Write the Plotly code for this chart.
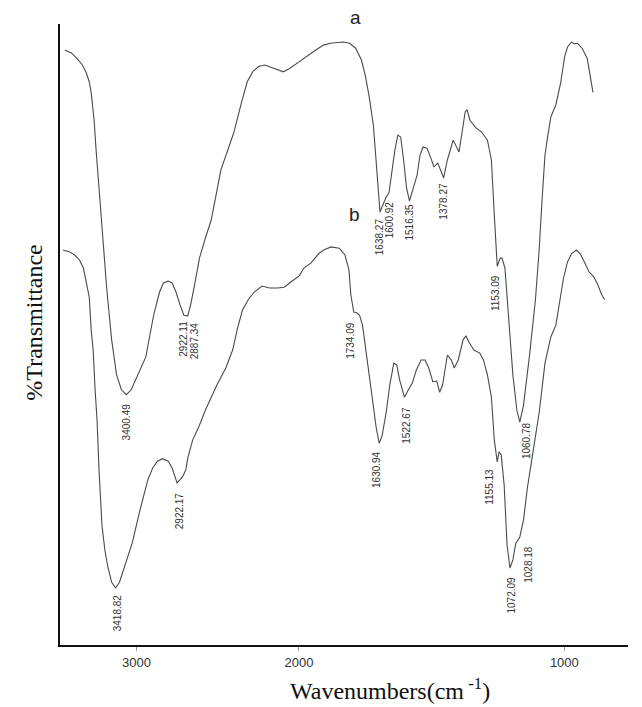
import plotly.graph_objects as go

# ---- data (wavenumber in cm-1, %T in arbitrary 0-100 units) ----
wn_a = [3440, 3398, 3368, 3332, 3308, 3290, 3278, 3260, 3248, 3230, 3212, 3182, 3152, 3122, 3092,
        3062, 3032, 2996, 2942, 2894, 2858, 2834, 2804, 2780, 2756, 2732, 2708, 2684, 2666, 2642,
        2612, 2576, 2540, 2480, 2402, 2354, 2318, 2282, 2246, 2210, 2156, 2096, 2060, 2000,
        1971, 1937, 1908, 1882, 1834, 1809, 1787, 1765, 1750, 1735, 1720, 1709, 1702, 1695, 1684,
        1672, 1661, 1650, 1639, 1628, 1617, 1606, 1595, 1584, 1573, 1566, 1555, 1544, 1533, 1518,
        1503, 1492, 1477, 1463, 1455, 1441, 1419, 1397, 1374, 1367, 1356, 1334, 1312, 1290, 1275,
        1264, 1253, 1242, 1235, 1224, 1209, 1194, 1179, 1168, 1154, 1132, 1109, 1095, 1084, 1073,
        1062, 1051, 1032, 1014, 999, 988, 973, 962, 951, 933, 914, 903, 892]
t_a = [95.8, 95.3, 94.5, 93.4, 92.1, 90.7, 88.9, 84.5, 79.7, 73.3, 66.5, 57.2, 49.1, 43.5, 41.1,
       40.3, 41.1, 43.2, 46.4, 53.1, 56.8, 58.3, 58.6, 58.3, 56.8, 54.8, 53.1, 53.0, 54.8, 58.0,
       62.3, 65.5, 68.4, 76.5, 82.4, 87.3, 90.7, 92.4, 93.2, 93.4, 92.9, 92.3, 92.8, 93.9,
       94.8, 95.8, 96.6, 96.9, 97.1, 96.9, 96.1, 94.2, 91.6, 88.1, 83.7, 78.1, 73.3, 69.7, 70.9,
       72.1, 72.8, 76.2, 79.7, 82.1, 81.8, 78.1, 73.6, 71.5, 73.3, 74.1, 75.7, 78.9, 80.2, 80.0,
       78.4, 77.0, 77.6, 76.2, 75.2, 78.1, 81.3, 79.4, 85.8, 86.2, 84.5, 83.3, 82.6, 81.3, 78.1,
       69.2, 61.0, 62.3, 62.3, 60.7, 51.9, 43.5, 37.8, 35.9, 38.6, 46.4, 55.6, 63.6, 71.7, 78.9,
       82.1, 85.0, 87.0, 90.5, 94.7, 96.3, 97.1, 96.8, 96.9, 96.1, 94.5, 91.5, 89.0]

wn_b = [3452, 3410, 3380, 3350, 3326, 3308, 3290, 3278, 3266, 3254, 3242, 3230, 3212, 3194, 3176,
        3152, 3128, 3104, 3080, 3050, 3026, 2978, 2930, 2900, 2870, 2840, 2804, 2780, 2762, 2750,
        2732, 2714, 2696, 2684, 2654, 2612, 2576, 2504, 2450, 2408, 2378, 2348, 2312, 2276, 2228,
        2180, 2132, 2090, 2048, 2000,
        1982, 1956, 1926, 1908, 1879, 1849, 1827, 1812, 1805, 1794, 1783, 1772, 1761, 1750, 1735,
        1724, 1709, 1698, 1687, 1672, 1658, 1643, 1632, 1621, 1603, 1588, 1573, 1558, 1540, 1525,
        1511, 1496, 1481, 1470, 1459, 1441, 1426, 1415, 1400, 1382, 1371, 1360, 1341, 1319, 1305,
        1290, 1275, 1264, 1253, 1246, 1238, 1227, 1216, 1205, 1194, 1183, 1168, 1154, 1139, 1124,
        1106, 1095, 1073, 1051, 1032, 1017, 1003, 988, 973, 955, 940, 925, 907, 889, 874, 859, 848]
t_b = [63.6, 63.3, 62.8, 62.0, 60.7, 58.3, 56.0, 50.7, 47.5, 41.1, 36.2, 28.2, 19.3, 15.3, 12.6,
       10.1, 9.2, 10.1, 12.1, 14.5, 16.4, 21.7, 26.6, 28.5, 29.6, 30.0, 29.6, 28.5, 26.9, 26.1,
       26.6, 27.2, 28.2, 30.1, 33.0, 35.4, 37.8, 41.9, 44.6, 47.5, 51.0, 53.9, 55.6, 56.8, 57.8,
       57.5, 57.5, 57.6, 58.5, 59.4,
       60.7, 61.5, 63.0, 63.6, 64.1, 63.9, 62.8, 60.4, 56.4, 53.6, 53.5, 53.1, 51.5, 48.0, 43.5,
       39.5, 34.9, 32.5, 33.7, 37.4, 41.9, 45.4, 45.1, 42.7, 39.9, 41.1, 42.2, 44.3, 45.9, 45.9,
       44.6, 42.4, 42.5, 40.7, 41.9, 46.7, 45.9, 44.6, 45.9, 49.1, 49.8, 48.8, 47.5, 47.0, 45.9,
       43.5, 39.9, 33.0, 29.5, 31.1, 30.6, 25.8, 16.1, 12.4, 13.7, 16.4, 17.4, 20.1, 25.4, 29.5,
       34.6, 37.4, 45.4, 49.6, 51.5, 55.6, 59.1, 61.7, 63.0, 63.6, 63.0, 61.7, 60.1, 59.3, 58.0, 56.4, 55.6]

peak_text = ["3400.49", "2922.11", "2887.34", "1638.27", "1600.92", "1516.35", "1378.27",
             "1153.09", "1060.78",
             "3418.82", "2922.17", "1734.09", "1630.94", "1522.67", "1155.13", "1072.09", "1028.18"]
peak_wn = [3062, 2708, 2642, 1698, 1661, 1584, 1455, 1257, 1143,
           3116, 2738, 1809, 1706, 1595, 1282, 1198, 1135]
peak_t = [35.9, 49.3, 49.0, 65.7, 68.4, 68.1, 71.5, 56.7, 32.9,
          5.2, 21.7, 49.1, 28.2, 35.4, 25.4, 8.1, 13.0]

x_ticks_hi = [3000, 2000]
x_ticks_lo = [1000]

SPLIT = 2000
LINE = dict(color="#4a4a4a", width=1.1)

fig = go.Figure()
for wn, t in ((wn_a, t_a), (wn_b, t_b)):
    hi = [(w, y) for w, y in zip(wn, t) if w >= SPLIT]
    lo = [(w, y) for w, y in zip(wn, t) if w <= SPLIT]
    fig.add_trace(go.Scatter(x=[p[0] for p in hi], y=[p[1] for p in hi], mode="lines",
                             line=LINE, xaxis="x", yaxis="y", showlegend=False, hoverinfo="skip"))
    fig.add_trace(go.Scatter(x=[p[0] for p in lo], y=[p[1] for p in lo], mode="lines",
                             line=LINE, xaxis="x2", yaxis="y", showlegend=False, hoverinfo="skip"))

ann = []
for txt, w, y in zip(peak_text, peak_wn, peak_t):
    ann.append(dict(text=txt, x=w, y=y, xref="x" if w >= SPLIT else "x2", yref="y",
                    showarrow=False, textangle=-90, xanchor="center", yanchor="middle",
                    font=dict(family="Liberation Sans, Arial", size=10, color="#333")))

L, R_, T_, B = 60, 0, 24, 62
W, H = 642, 707
pw = W - L - R_
ph = H - T_ - B
def px(x):
    return (x - L) / pw
def py(y):
    return (H - B - y) / ph

ann.append(dict(text="a", x=px(363), y=py(18), xref="paper", yref="paper", showarrow=False,
                xanchor="center", yanchor="middle",
                font=dict(family="Liberation Sans, Arial", size=19, color="#222")))
ann.append(dict(text="b", x=px(362), y=py(214), xref="paper", yref="paper", showarrow=False,
                xanchor="center", yanchor="middle",
                font=dict(family="Liberation Sans, Arial", size=19, color="#222")))
ann.append(dict(text="%Transmittance", x=px(33), y=py(323), xref="paper", yref="paper",
                showarrow=False, textangle=-90, xanchor="center", yanchor="middle",
                font=dict(family="Liberation Serif, Times New Roman", size=24, color="#111")))
ann.append(dict(text="Wavenumbers(cm<sup> -1</sup>)", x=px(398), y=py(689), xref="paper",
                yref="paper", showarrow=False, xanchor="center", yanchor="middle",
                font=dict(family="Liberation Serif, Times New Roman", size=24, color="#111")))

split_dom = (305 - L) / pw
axis_common = dict(showline=True, linecolor="#111", linewidth=2, showgrid=False, zeroline=False,
                   ticks="outside", ticklen=4, tickcolor="#999", tickwidth=1,
                   tickfont=dict(family="Liberation Sans, Arial", size=13, color="#333"))

fig.update_layout(
    width=W, height=H,
    margin=dict(l=L, r=R_, t=T_, b=B),
    paper_bgcolor="white", plot_bgcolor="white",
    xaxis=dict(domain=[0, split_dom], range=[3470, 1999], tickvals=x_ticks_hi,
               anchor="y", **axis_common),
    xaxis2=dict(domain=[split_dom, 1], range=[2000, 760], tickvals=x_ticks_lo,
                anchor="y", **axis_common),
    yaxis=dict(range=[0, 100], showline=True, linecolor="#111", linewidth=2,
               showticklabels=False, ticks="", showgrid=False, zeroline=False),
    annotations=ann,
)

fig.write_html("out.html", config={"displayModeBar": False},
               post_script="document.body.style.margin='0';document.body.style.overflow='hidden';")
